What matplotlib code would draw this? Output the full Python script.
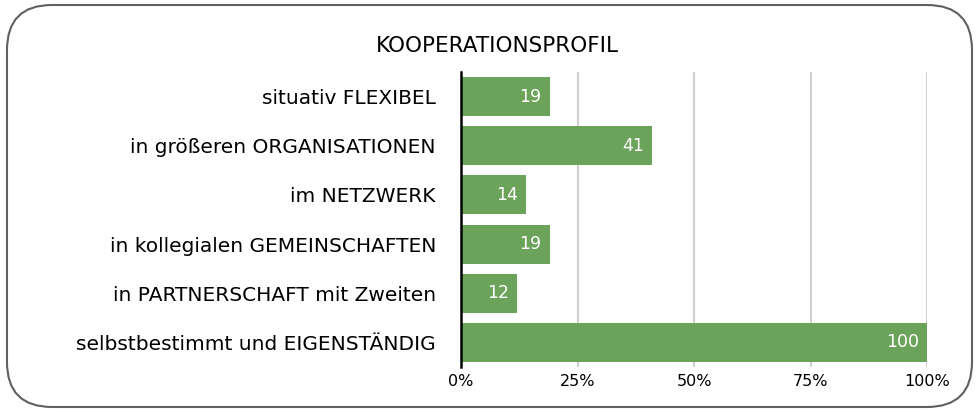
import matplotlib.pyplot as plt
from matplotlib.patches import FancyBboxPatch

plt.rcParams['font.family'] = ['DejaVu Sans']

# data, top to bottom
categories = ["situativ FLEXIBEL", "in größeren ORGANISATIONEN", "im NETZWERK",
              "in kollegialen GEMEINSCHAFTEN", "in PARTNERSCHAFT mit Zweiten",
              "selbstbestimmt und EIGENSTÄNDIG"]
values = [19, 41, 14, 19, 12, 100]
tick_values = [0, 25, 50, 75, 100]
tick_labels = ["0%", "25%", "50%", "75%", "100%"]

bar_color = "#6ca35a"

fig = plt.figure(figsize=(9.79, 4.12), dpi=100)

# background axes in pixel units for the rounded frame
bg = fig.add_axes([0, 0, 1, 1], zorder=-1)
bg.set_xlim(0, 979)
bg.set_ylim(0, 412)
bg.axis("off")
frame = FancyBboxPatch((7, 5), 965, 402,
                       boxstyle="round,pad=0,rounding_size=45",
                       facecolor="white", edgecolor="#606060", linewidth=1.5)
bg.add_patch(frame)

ax = fig.add_axes([461 / 979, 45 / 412, 466 / 979, 295 / 412])
ax.set_facecolor("none")

pos = list(range(len(categories)))[::-1]
bars = ax.barh(pos, values, height=0.79, color=bar_color, zorder=3)

for y, v in zip(pos, values):
    ax.text(v - 1.7, y, str(v), color="white", ha="right", va="center",
            fontsize=12.5, zorder=4)

ax.set_xlim(0, 100)
ax.set_ylim(-0.5, 5.5)
ax.set_xticks(tick_values)
ax.set_xticklabels(tick_labels, fontsize=11.5)
ax.set_yticks(pos)
ax.set_yticklabels(categories, fontsize=14.5)
ax.tick_params(axis="y", length=0, pad=18)
ax.tick_params(axis="x", length=0, pad=5)

ax.grid(axis="x", color="#d0d0d0", linewidth=1.5, zorder=0)
for s in ["top", "right", "bottom"]:
    ax.spines[s].set_visible(False)
ax.spines["left"].set_linewidth(1.8)
ax.spines["left"].set_color("black")
ax.spines["left"].set_zorder(5)

fig.text(497 / 979, 1 - 46 / 412, "KOOPERATIONSPROFIL", ha="center",
         va="center", fontsize=15.5)

fig.savefig("out.png", dpi=100)
